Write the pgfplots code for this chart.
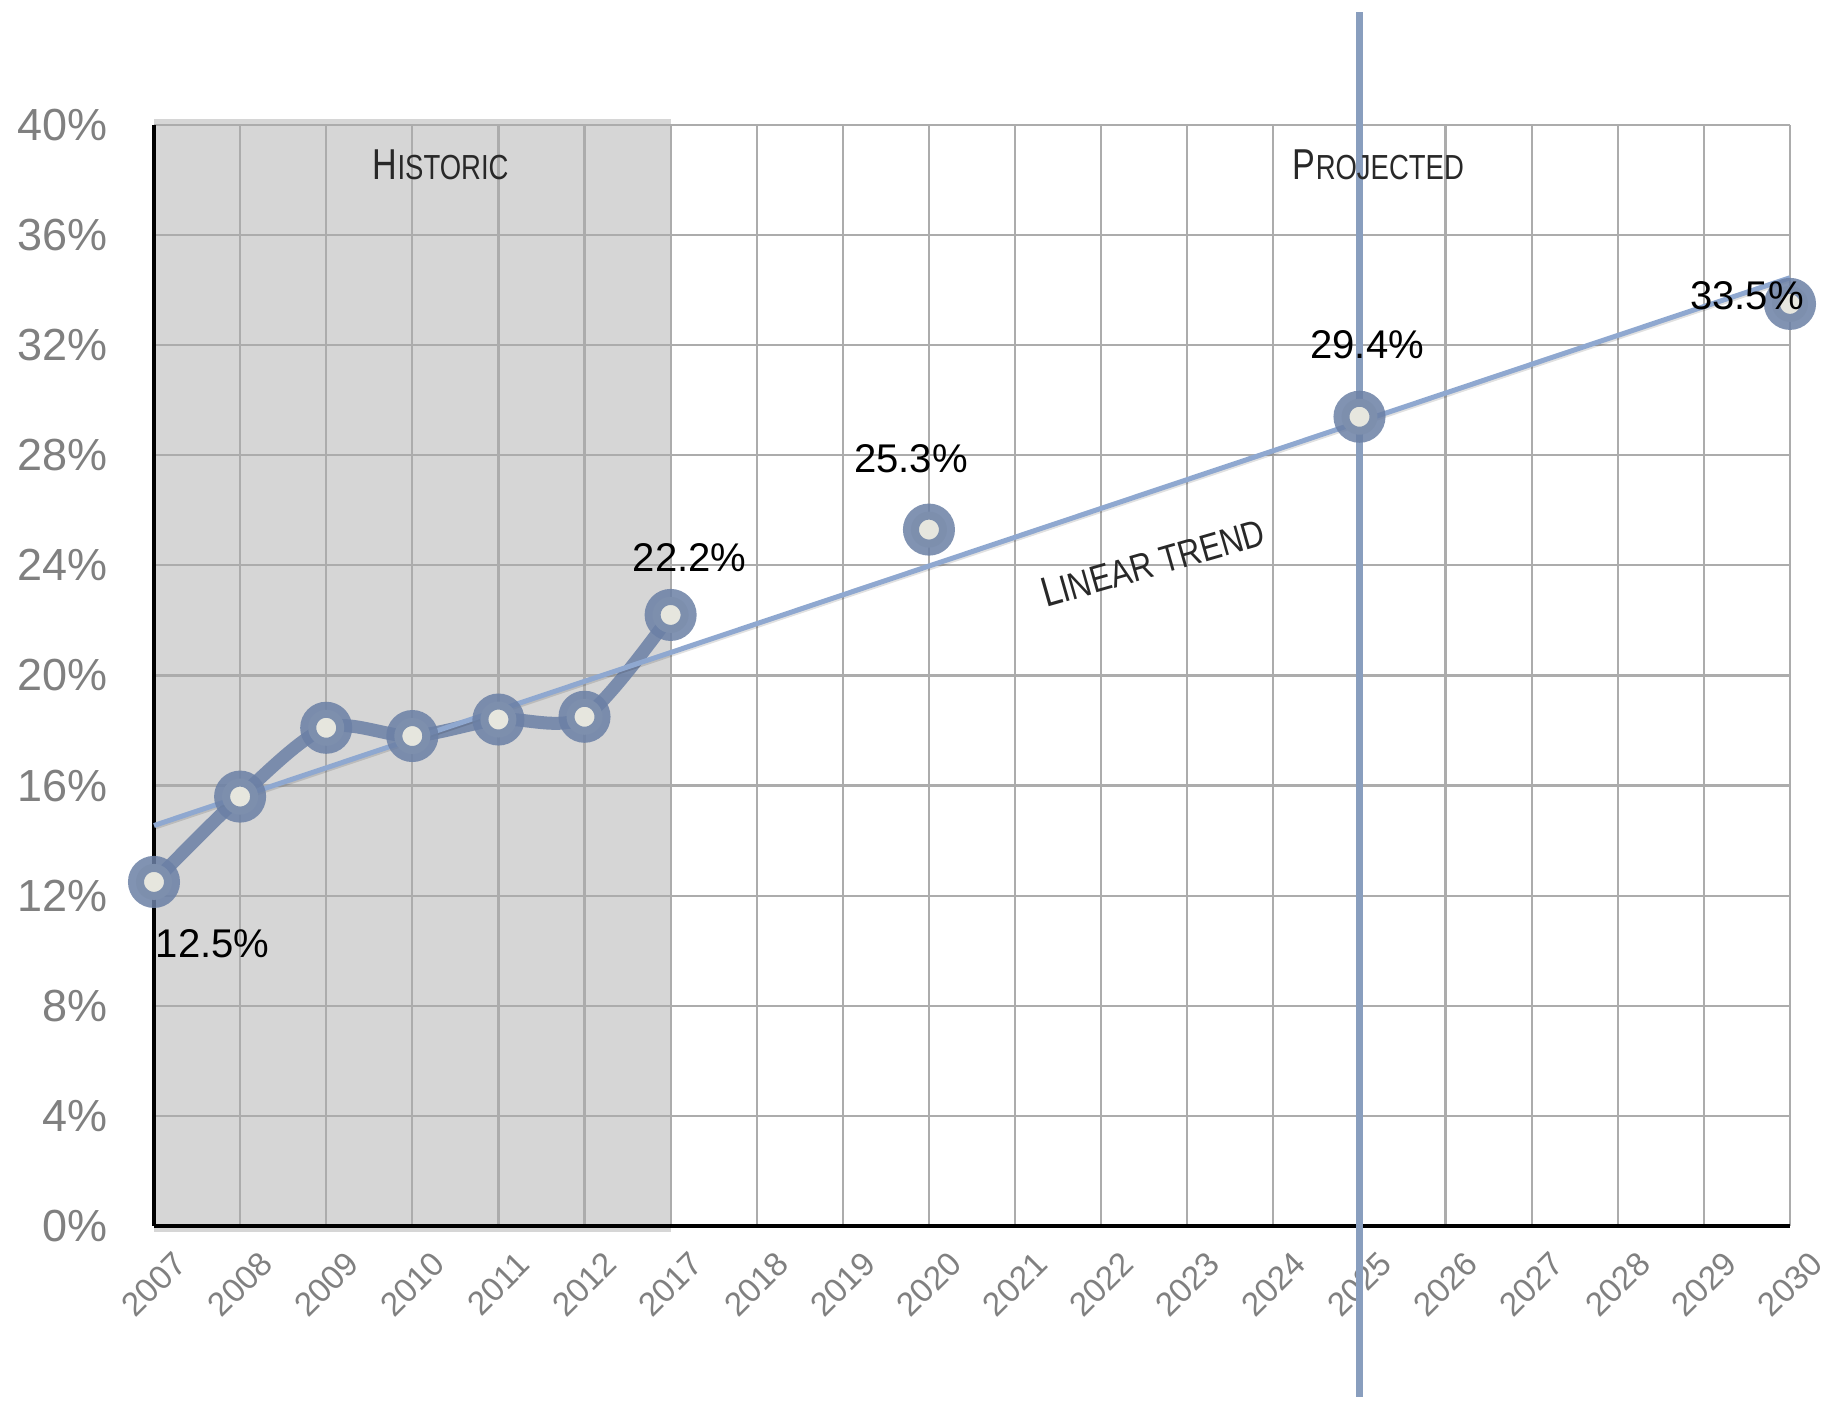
\documentclass[border=0pt]{standalone}
\usepackage{pgfplots}
\pgfplotsset{compat=1.18}
\usepackage{fontspec}
\setmainfont{Liberation Sans}
\usepackage{graphicx}
\definecolor{shadec}{RGB}{214,214,214}
\definecolor{gridc}{RGB}{172,172,172}
\definecolor{tickc}{RGB}{128,128,128}
\definecolor{ringc}{RGB}{107,128,165}
\definecolor{innerc}{RGB}{230,230,222}
\definecolor{trendc}{RGB}{143,168,208}
\definecolor{vlinec}{RGB}{137,158,190}
\definecolor{annc}{RGB}{40,40,40}
\begin{document}
\begin{tikzpicture}
\begin{axis}[
  set layers,
  at={(0,0)}, anchor=south west,
  width=16.36cm, height=11.01cm, scale only axis,
  xmin=0, xmax=19, ymin=0, ymax=40,
  clip=false,
  axis x line=bottom, axis y line=left,
  axis line style={black, line width=0.034cm, -},
  xtick={0,...,19},
  xticklabels={2007,2008,2009,2010,2011,2012,2017,2018,2019,2020,2021,2022,2023,2024,2025,2026,2027,2028,2029,2030},
  ytick={0,4,8,12,16,20,24,28,32,36,40},
  yticklabels={0\%,4\%,8\%,12\%,16\%,20\%,24\%,28\%,32\%,36\%,40\%},
  major tick length=0pt,
  grid=major,
  major grid style={gridc, line width=0.022cm},
  xticklabel style={font=\fontsize{9.5}{10}\selectfont, text=tickc, inner sep=0pt, yshift=-0.58cm, rotate=45, anchor=center},
  yticklabel style={font=\fontsize{12.8}{14}\selectfont, text=tickc, inner sep=0pt, anchor=east, xshift=-0.46cm},
]
% shaded historic region
\addplot[fill=shadec, draw=none, on layer=axis background, forget plot] coordinates {(0,-0.22) (6,-0.22) (6,40.22) (0,40.22)} -- cycle;
% 2025 divider
\addplot[vlinec, line width=0.07cm, forget plot] coordinates {(14,-6.2) (14,44.1)};
% historic series
\addplot[ringc, draw opacity=0.85, line width=0.13cm, smooth, tension=0.5,
  mark=*, mark size=0.18cm,
  mark options={solid, draw=ringc, draw opacity=0.85, fill=innerc, fill opacity=1, line width=0.16cm}]
  coordinates {(0,12.5) (1,15.6) (2,18.1) (3,17.8) (4,18.4) (5,18.5) (6,22.2)};
% projected points
\addplot[only marks, mark=*, mark size=0.18cm,
  mark options={solid, draw=ringc, draw opacity=0.85, fill=innerc, fill opacity=1, line width=0.16cm}]
  coordinates {(9,25.3) (14,29.4) (19,33.5)};
% trend shadow and trend line
\addplot[black, opacity=0.12, line width=0.04cm, forget plot] coordinates {(0,14.46) (19,34.36)};
\addplot[trendc, line width=0.05cm] coordinates {(0,14.55) (19,34.45)};
\begin{pgfonlayer}{axis foreground}
% data labels
\node[font=\fontsize{11.4}{12}\selectfont, text=black, inner sep=0pt] at (axis cs:0.68,10.26) {12.5\%};
\node[font=\fontsize{11.4}{12}\selectfont, text=black, inner sep=0pt] at (axis cs:6.22,24.29) {22.2\%};
\node[font=\fontsize{11.4}{12}\selectfont, text=black, inner sep=0pt] at (axis cs:8.79,27.87) {25.3\%};
\node[font=\fontsize{11.4}{12}\selectfont, text=black, inner sep=0pt] at (axis cs:14.09,32.03) {29.4\%};
\node[font=\fontsize{11.4}{12}\selectfont, text=black, inner sep=0pt] at (axis cs:18.50,33.79) {33.5\%};
% annotations
\node[anchor=base, text=annc, inner sep=0pt] at (axis cs:3.33,38.03) {\scalebox{0.79}[1]{\fontsize{12.3}{13}\selectfont H\fontsize{9.9}{10}\selectfont ISTORIC}};
\node[anchor=base, text=annc, inner sep=0pt] at (axis cs:14.22,38.03) {\scalebox{0.79}[1]{\fontsize{12.3}{13}\selectfont P\fontsize{9.9}{10}\selectfont ROJECTED}};
\node[rotate=16, text=annc, inner sep=0pt] at (axis cs:11.60,24.12) {\scalebox{0.82}[1]{\fontsize{12}{12}\selectfont L\fontsize{10.8}{11}\selectfont INEAR TREND}};
\end{pgfonlayer}
\end{axis}
\path (-1.54,-1.72) rectangle (16.77,12.26);
\end{tikzpicture}
\end{document}
